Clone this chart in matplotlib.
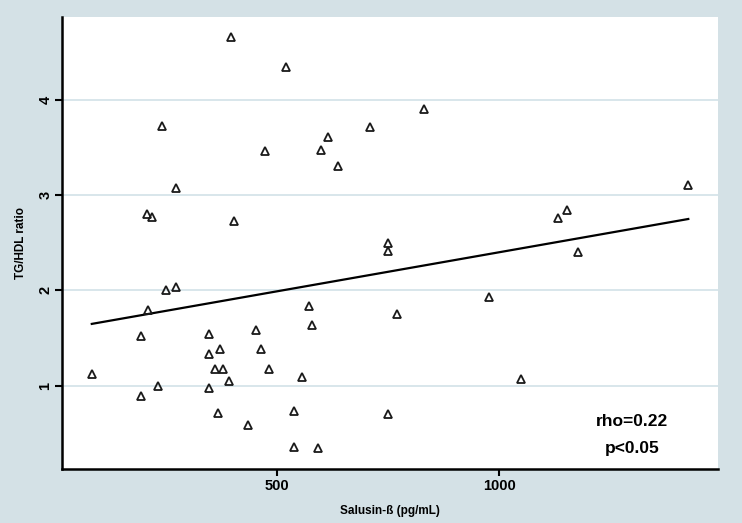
import numpy as np
import matplotlib
matplotlib.use("Agg")
import matplotlib.pyplot as plt

# Salusin-beta (pg/mL) vs TG/HDL ratio
salusin = [83, 193, 209, 194, 233, 251, 273, 348, 346, 346, 371, 361, 379, 392,
           368, 435, 453, 463, 483, 538, 538, 557, 396, 520, 241, 473, 272, 208,
           218, 404, 831, 709, 615, 598, 638, 1426, 1154, 1132, 750, 750, 1177,
           572, 578, 770, 978, 1050, 749, 592]
tg_hdl = [1.12, 1.52, 1.79, 0.89, 1.00, 2.00, 2.04, 1.54, 1.33, 0.97, 1.38, 1.17,
          1.17, 1.05, 0.71, 0.59, 1.58, 1.38, 1.17, 0.73, 0.36, 1.09, 4.66, 4.34,
          3.73, 3.46, 3.08, 2.80, 2.77, 2.73, 3.90, 3.71, 3.61, 3.47, 3.31, 3.11,
          2.84, 2.76, 2.50, 2.41, 2.40, 1.84, 1.64, 1.75, 1.93, 1.07, 0.70, 0.34]

# linear fit shown in the figure
fit_intercept = 1.58
fit_slope = 0.00082

x_ticks = [500, 1000]
y_ticks = [1, 2, 3, 4]

bg = "#d4e1e6"
grid_col = "#d2e2e8"

plt.rcParams["font.family"] = ["Liberation Sans", "DejaVu Sans"]

fig = plt.figure(figsize=(7.42, 5.23), dpi=100, facecolor=bg)
ax = fig.add_axes([0.0836, 0.1033, 0.8841, 0.8642])
ax.set_facecolor("white")

x = np.array(salusin)
xl = np.array([x.min(), x.max()])
ax.plot(xl, fit_intercept + fit_slope * xl, color="black", lw=1.6, zorder=3)
ax.plot(x, tg_hdl, ls="none", marker="^", ms=6, mfc="none",
        mec="#1a1a1a", mew=1.3, zorder=4)

ax.set_xlim(16, 1493)
ax.set_ylim(0.125, 4.87)
ax.set_xticks(x_ticks)
ax.set_yticks(y_ticks)
ax.set_xticklabels([str(t) for t in x_ticks], fontsize=10.5, fontweight="bold")
ax.set_yticklabels([str(t) for t in y_ticks], fontsize=10.5, fontweight="bold",
                   rotation=90, va="center")
ax.tick_params(axis="both", length=5, width=1.5, pad=2, color="black")
ax.grid(axis="y", color=grid_col, lw=1.2)
ax.set_axisbelow(True)

for s in ["top", "right"]:
    ax.spines[s].set_visible(False)
for s in ["left", "bottom"]:
    ax.spines[s].set_linewidth(1.8)

ax.set_xlabel("Salusin-ß (pg/mL)", fontsize=8.5, fontweight="bold", labelpad=9)
ax.set_ylabel("TG/HDL ratio", fontsize=8.5, fontweight="bold", labelpad=8)

ax.text(0.869, 0.104, "rho=0.22", transform=ax.transAxes, fontsize=12.5,
        fontweight="bold", ha="center", va="center")
ax.text(0.869, 0.046, "p<0.05", transform=ax.transAxes, fontsize=12.5,
        fontweight="bold", ha="center", va="center")

fig.savefig("out.png", dpi=100, facecolor=bg)
